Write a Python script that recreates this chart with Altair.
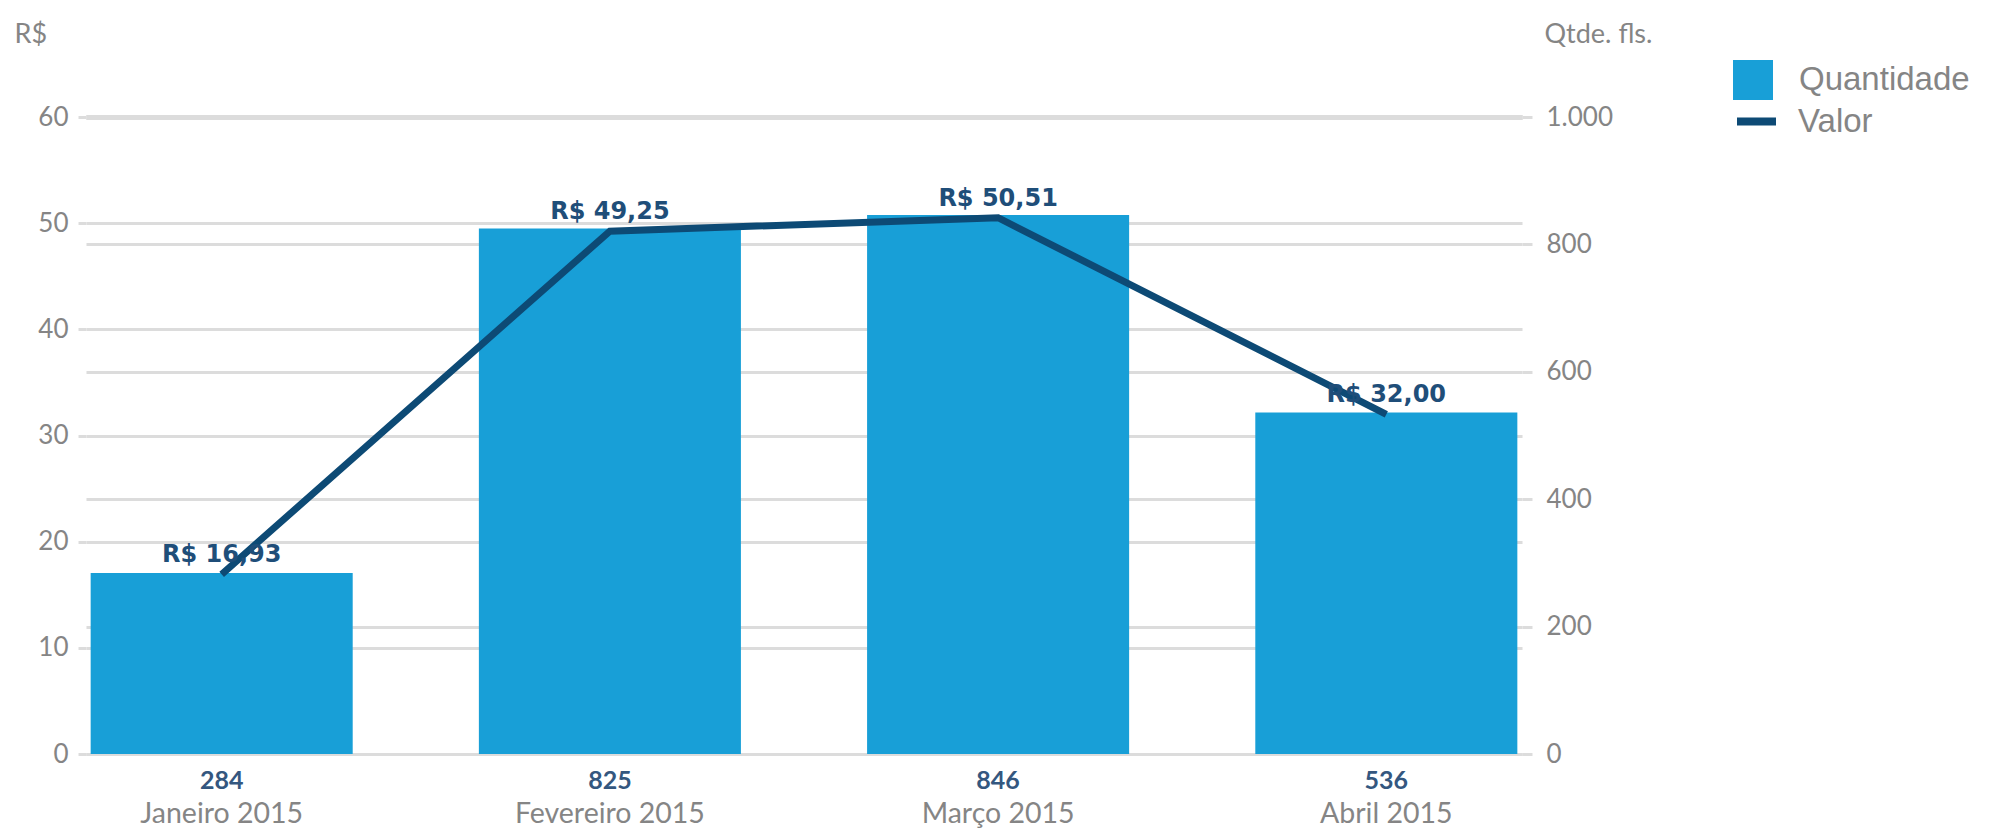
import altair as alt
import pandas as pd

# ---- data ----
meses = ["Janeiro 2015", "Fevereiro 2015", "Março 2015", "Abril 2015"]
quantidade = [284, 825, 846, 536]
valor = [16.93, 49.25, 50.51, 32.00]
valor_rotulos = ["R$ 16,93", "R$ 49,25", "R$ 50,51", "R$ 32,00"]
qtd_rotulos = ["284", "825", "846", "536"]
ticks_esq = [0, 10, 20, 30, 40, 50, 60]
ticks_dir = [0, 200, 400, 600, 800, 1000]

df = pd.DataFrame({
    "mes": meses,
    "Quantidade": quantidade,
    "Valor": valor,
    "rotulo_v": valor_rotulos,
    "rotulo_q": qtd_rotulos,
    "serie_q": ["Quantidade"] * 4,
    "serie_v": ["Valor"] * 4,
})

W, H = 1436, 637
BAR = "#189fd7"
LINE = "#0d4a75"
GRID = "#dcdcdc"
GRAY = "#858585"

x = alt.X(
    "mes:N", sort=meses,
    scale=alt.Scale(paddingInner=0.325, paddingOuter=0.012),
    axis=alt.Axis(title=None, labelFont="Lato", labelFontSize=28.5, labelColor=GRAY,
                  labelPadding=45, labelLimit=0, ticks=False, domain=False,
                  labelAngle=0, grid=False),
)

axis_dir = alt.Axis(
    orient="right", values=ticks_dir, title="Qtde. fls.", titleAngle=0,
    titleAlign="left", titleBaseline="middle", titleX=22, titleY=-83,
    titleFont="Lato", titleFontSize=27, titleFontWeight="normal", titleColor=GRAY,
    labelFont="Lato", labelFontSize=26, labelColor=GRAY, labelPadding=14,
    labelExpr="replace(format(datum.value, ','), ',', '.')",
    tickSize=10, tickColor=GRID, tickWidth=3, domain=False,
    grid=True, gridColor=GRID,
    gridWidth={"condition": {"test": "datum.value == 1000", "value": 5}, "value": 3},
)

axis_esq = alt.Axis(
    orient="left", values=ticks_esq, title="R$", titleAngle=0,
    titleAlign="left", titleBaseline="middle", titleX=-72, titleY=-83,
    titleFont="Lato", titleFontSize=27, titleFontWeight="normal", titleColor=GRAY,
    labelFont="Lato", labelFontSize=26, labelColor=GRAY, labelPadding=10,
    tickSize=8, tickColor=GRID, tickWidth=3, domain=False,
    grid=True, gridColor=GRID,
    gridWidth={"condition": {"test": "datum.value == 60", "value": 5}, "value": 3},
)

y_dir = alt.Y("Quantidade:Q", scale=alt.Scale(domain=[0, 1000], nice=False), axis=axis_dir)
y_esq = alt.Y("Valor:Q", scale=alt.Scale(domain=[0, 60], nice=False), axis=axis_esq)

base = alt.Chart(df)

bars = base.mark_bar().encode(
    x=x,
    y=y_dir,
    fill=alt.Fill(
        "serie_q:N",
        scale=alt.Scale(domain=["Quantidade"], range=[BAR]),
        legend=alt.Legend(title=None, orient="none", legendX=1647, legendY=-57,
                          symbolType="square", symbolSize=1600, symbolStrokeWidth=0,
                          labelFont="Liberation Sans", labelFontSize=33, labelColor=GRAY,
                          labelOffset=26, labelLimit=400, padding=0),
    ),
)

qtd_text = base.mark_text(font="Lato", fontSize=25, fontWeight="bold", color="#34577f",
                          baseline="middle").encode(
    x=x,
    y=alt.value(H + 27),
    text="rotulo_q:N",
)

line = base.mark_line(strokeWidth=7).encode(
    x=x,
    y=y_esq,
    stroke=alt.Stroke(
        "serie_v:N",
        scale=alt.Scale(domain=["Valor"], range=[LINE]),
        legend=alt.Legend(title=None, orient="none", legendX=1647, legendY=-19,
                          symbolType="stroke", symbolSize=1521, symbolStrokeWidth=8,
                          labelFont="Liberation Sans", labelFontSize=33, labelColor=GRAY,
                          labelOffset=18, labelLimit=400, padding=0),
    ),
)

val_text = base.mark_text(font="DejaVu Sans", fontSize=24, fontWeight="bold", color="#1f4e79",
                          baseline="middle", dy=-19).encode(
    x=x,
    y=y_esq,
    text="rotulo_v:N",
)

chart = alt.layer(
    alt.layer(bars, qtd_text),
    alt.layer(line, val_text),
).resolve_scale(y="independent", fill="independent", stroke="independent").properties(
    width=W, height=H,
    autosize=alt.AutoSizeParams(type="none"),
    padding={"left": 78, "top": 109, "right": 450, "bottom": 74},
).configure_view(stroke=None)

chart.save("out.html", embed_options={"renderer": "svg", "actions": False})
